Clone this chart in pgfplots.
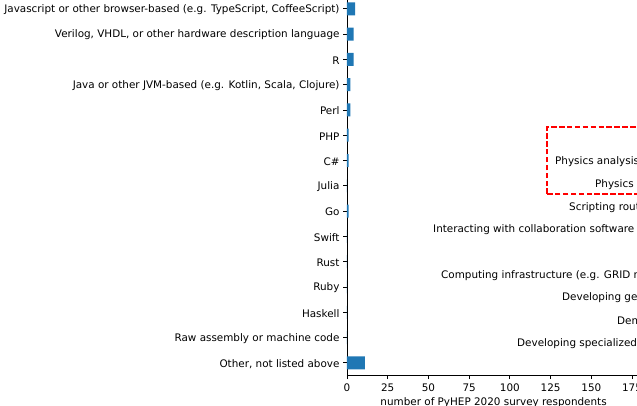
\documentclass[border=0pt]{standalone}
\usepackage{pgfplots}
\pgfplotsset{compat=1.18}
\usepackage{fontspec}
\setmainfont{DejaVu Sans}
\definecolor{tabblue}{HTML}{1F77B4}
\newcommand{\lblfont}{\fontsize{10.4bp}{12.5bp}\selectfont}
\begin{document}
\begin{tikzpicture}
\path[use as bounding box] (0,0) rectangle (637bp,406bp);
\clip (0,0) rectangle (637bp,406bp);
\begin{axis}[
  at={(347bp,30.5bp)}, anchor=south west,
  scale only axis,
  width=293.2bp, height=417.3bp,
  xmin=0, xmax=180, ymin=-0.5, ymax=16,
  axis x line=bottom, axis y line=left,
  axis line style={-, line width=0.8bp},
  xbar, bar width=13bp,
  xtick={0,25,50,75,100,125,150,175},
  ytick={0,...,14},
  yticklabels={{Other, not listed above}, Raw assembly or machine code, Haskell, Ruby, Rust, Swift, Go, Julia, C\#, PHP, Perl, {Java or other JVM-based (e.g. Kotlin, Scala, Clojure)}, R, {Verilog, VHDL, or other hardware description language}, {Javascript or other browser-based (e.g. TypeScript, CoffeeScript)}},
  tick align=outside,
  major tick length=3.5bp,
  tick style={line width=0.8bp, black},
  xtick pos=bottom, ytick pos=left,
  tick label style={font=\lblfont},
  xticklabel style={yshift=-1bp},
  /pgf/number format/assume math mode=true,
  xlabel={number of PyHEP 2020 survey respondents},
  xlabel style={font=\lblfont, yshift=1bp},
  yticklabel style={xshift=-0.5bp, yshift=-1bp},
]
\addplot[fill=tabblue, draw=none] table[x=v, y=i] {
i v
14 5
13 4
12 4
11 2
10 2
9 1
8 1
7 0
6 1
5 0
4 0
3 0
2 0
1 0
0 11
};
\end{axis}
\draw[red, line width=1.4bp, dash pattern=on 5.5bp off 2.4bp] (547bp,{406bp-194bp}) rectangle (700bp,{406bp-127bp});
\begin{scope}[every node/.style={anchor=west, inner sep=0pt, font=\lblfont}]
\node at (555bp,{406bp-161.5bp}) {Physics analysis (e.g. histogramming)};
\node at (595bp,{406bp-184.5bp}) {Physics simulation};
\node at (569bp,{406bp-207.5bp}) {Scripting routine tasks};
\node at (433bp,{406bp-229.5bp}) {Interacting with collaboration software frameworks};
\node at (441bp,{406bp-275.5bp}) {Computing infrastructure (e.g. GRID middleware)};
\node at (562bp,{406bp-297.5bp}) {Developing general tools};
\node at (617bp,{406bp-320.5bp}) {Demonstrations};
\node at (517bp,{406bp-343.5bp}) {Developing specialized tools};
\end{scope}
\end{tikzpicture}
\end{document}
